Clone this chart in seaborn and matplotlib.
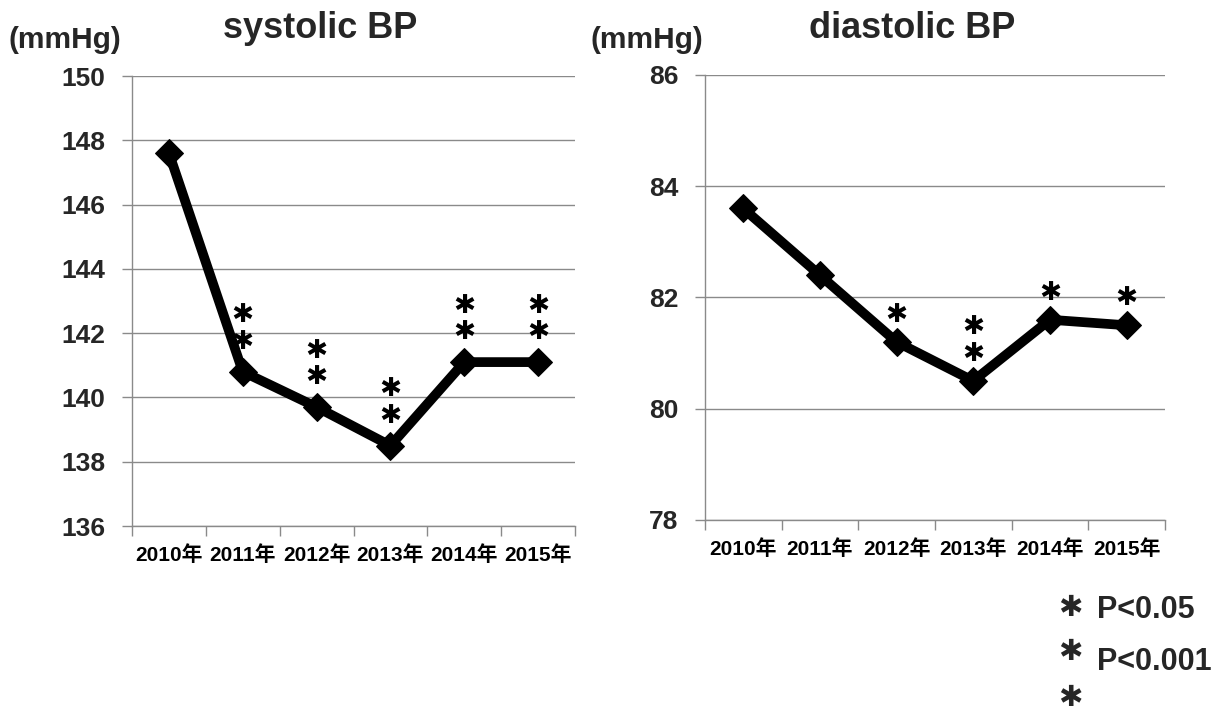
import matplotlib
matplotlib.use("Agg")
import matplotlib.pyplot as plt
import seaborn as sns
import numpy as np
import pandas as pd

years = ["2010年", "2011年", "2012年", "2013年", "2014年", "2015年"]
systolic = [147.6, 140.8, 139.7, 138.5, 141.1, 141.1]
diastolic = [83.6, 82.4, 81.2, 80.5, 81.6, 81.5]
sys_sig = ["", "**", "**", "**", "**", "**"]
dia_sig = ["", "", "*", "**", "*", "*"]

sns.set_theme(style="white")
plt.rcParams['font.family'] = ['Liberation Sans', 'Noto Sans CJK JP', 'DejaVu Sans']
plt.rcParams['font.weight'] = 'bold'

fig = plt.figure(figsize=(12.26, 7.12), dpi=100)
ax1 = fig.add_axes([0.1077, 0.2612, 0.3613, 0.6320])
ax2 = fig.add_axes([0.5750, 0.2697, 0.3752, 0.6250])

grid_c = "#8a8a8a"
STAR = "✱"
star_font = ['DejaVu Sans']


def draw(ax, vals, sig, ylim, yticks, step_off):
    df = pd.DataFrame({"pos": np.arange(len(years)), "val": vals})
    sns.lineplot(data=df, x="pos", y="val", ax=ax, color="black", lw=7,
                 marker="D", markersize=14, markeredgecolor="black",
                 markerfacecolor="black", zorder=3)
    ax.set_xlim(-0.5, len(years) - 0.5)
    ax.set_ylim(*ylim)
    ax.set_yticks(yticks)
    ax.set_yticklabels([str(t) for t in yticks], fontsize=19, fontweight='bold')
    ax.set_xticks(np.arange(len(years)))
    ax.set_xticklabels(years, fontsize=15, fontweight='bold')
    ax.set_xticks(np.arange(-0.5, len(years)), minor=True)
    ax.tick_params(axis='x', which='major', length=0, pad=14, colors='black')
    ax.tick_params(axis='x', which='minor', length=7, width=1, color=grid_c, direction='out', bottom=True)
    ax.tick_params(axis='y', length=7, width=1, color=grid_c, direction='out', left=True, pad=12)
    ax.set_xlabel("")
    ax.set_ylabel("")
    ax.grid(axis='y', color=grid_c, lw=1)
    ax.grid(axis='x', visible=False)
    ax.set_axisbelow(True)
    for s in ['top', 'right']:
        ax.spines[s].set_visible(False)
    for s in ['left', 'bottom']:
        ax.spines[s].set_color(grid_c)
        ax.spines[s].set_linewidth(1)
    for i, (v, s) in enumerate(zip(vals, sig)):
        for k in range(len(s)):
            ax.annotate(STAR, xy=(i, v), xytext=(0, step_off[0] + k * step_off[1]),
                        textcoords='offset points', ha='center', va='center',
                        fontsize=19, fontweight='bold', family=star_font, color='black')


draw(ax1, systolic, sys_sig, (136, 150), [136, 138, 140, 142, 144, 146, 148, 150], (21.5, 19))
draw(ax2, diastolic, dia_sig, (78, 86), [78, 80, 82, 84, 86], (19.5, 19))

fig.text(320 / 1226, 1 - 28 / 712, "systolic BP", ha='center', va='center', fontsize=26, fontweight='bold')
fig.text(912 / 1226, 1 - 28 / 712, "diastolic BP", ha='center', va='center', fontsize=26, fontweight='bold')
fig.text(8 / 1226, 1 - 40 / 712, "(mmHg)", ha='left', va='center', fontsize=21.5, fontweight='bold')
fig.text(590 / 1226, 1 - 40 / 712, "(mmHg)", ha='left', va='center', fontsize=21.5, fontweight='bold')

fig.text(1070 / 1226, 1 - 608 / 712, STAR, ha='center', va='center', fontsize=21, fontweight='bold', family=star_font)
fig.text(1097 / 1226, 1 - 610 / 712, "P<0.05", ha='left', va='center', fontsize=22, fontweight='bold')
fig.text(1070 / 1226, 1 - 652 / 712, STAR, ha='center', va='center', fontsize=21, fontweight='bold', family=star_font)
fig.text(1070 / 1226, 1 - 698 / 712, STAR, ha='center', va='center', fontsize=21, fontweight='bold', family=star_font)
fig.text(1097 / 1226, 1 - 662 / 712, "P<0.001", ha='left', va='center', fontsize=22, fontweight='bold')

fig.savefig("out.png", dpi=100, facecolor='white')
